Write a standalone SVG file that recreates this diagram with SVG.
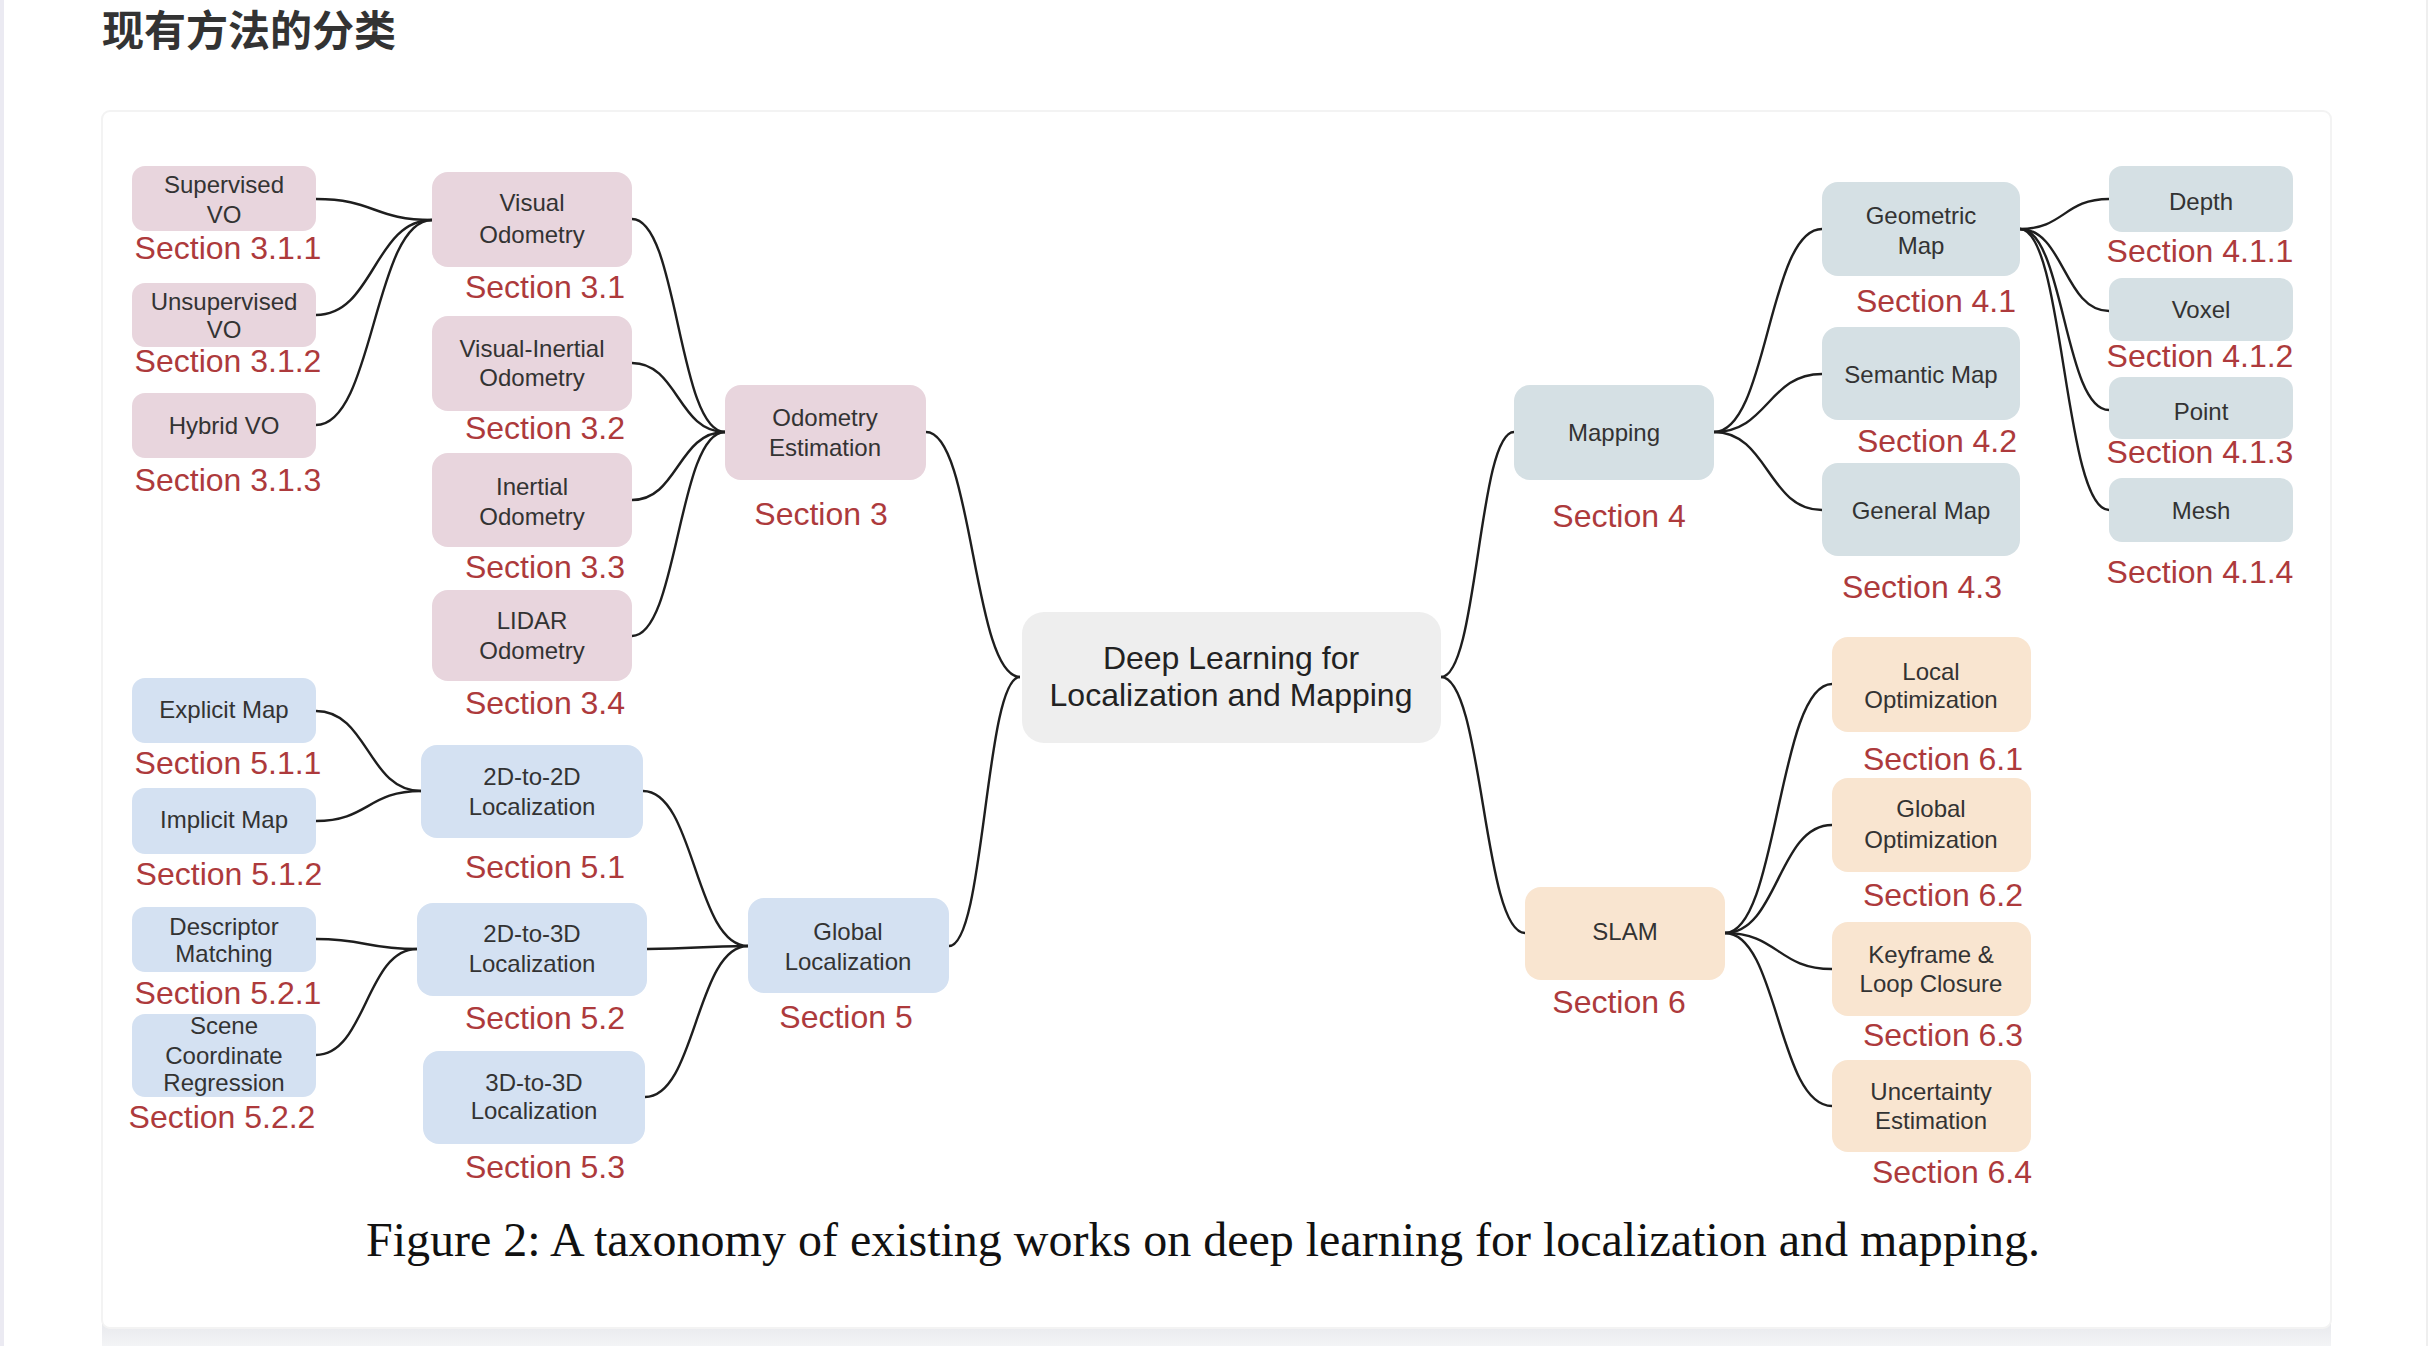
<svg xmlns="http://www.w3.org/2000/svg" width="2428" height="1346" viewBox="0 0 2428 1346">
<defs>
<linearGradient id="band" x1="0" y1="0" x2="0" y2="1"><stop offset="0" stop-color="#e6e7eb"/><stop offset="1" stop-color="#f3f4f6"/></linearGradient>
</defs>
<style>
.pink{fill:#e8d5dd}
.blue{fill:#d4e1f2}
.teal{fill:#d5e0e4}
.orange{fill:#f9e5d0}
.center{fill:#eeeeee}
.lbl{font-family:"Liberation Sans",Arial,sans-serif;font-size:24px;fill:#333333;text-anchor:middle}
.big{font-family:"Liberation Sans",Arial,sans-serif;font-size:32px;fill:#222222;text-anchor:middle}
.sec{font-family:"Liberation Sans",Arial,sans-serif;font-size:32px;fill:#ad3a3c;text-anchor:middle}
.edge{fill:none;stroke:#1e1e1e;stroke-width:2.4}
</style>
<rect x="0" y="0" width="2428" height="1346" fill="#ffffff"/>
<rect x="0" y="0" width="4" height="1346" fill="#ebeaf2"/>
<rect x="2426" y="0" width="2" height="1346" fill="#efefef"/>
<rect x="102" y="1318" width="2229" height="28" fill="url(#band)"/>
<rect x="102" y="111" width="2229" height="1217" rx="8" fill="#ffffff" stroke="#f3f3f3" stroke-width="2"/>
<text x="102" y="46" font-family="'Noto Sans CJK SC',sans-serif" font-size="42" font-weight="700" fill="#333333">现有方法的分类</text>

<g id="connectors">
<path class="edge" d="M316 199 C374 199 374 220 432 220"/>
<path class="edge" d="M316 315 C374 315 374 220 432 220"/>
<path class="edge" d="M316 425 C374 425 374 220 432 220"/>
<path class="edge" d="M632 219 C678 219 678 432 725 432"/>
<path class="edge" d="M632 363 C678 363 678 432 725 432"/>
<path class="edge" d="M632 500 C678 500 678 432 725 432"/>
<path class="edge" d="M632 636 C678 636 678 432 725 432"/>
<path class="edge" d="M926 432 C973 432 973 677 1020 677"/>
<path class="edge" d="M316 711 C368 711 368 791 421 791"/>
<path class="edge" d="M316 821 C368 821 368 791 421 791"/>
<path class="edge" d="M316 939 C366 939 366 949 417 949"/>
<path class="edge" d="M316 1055 C366 1055 366 949 417 949"/>
<path class="edge" d="M643 791 C695 791 695 946 748 946"/>
<path class="edge" d="M647 949 C697 949 697 946 748 946"/>
<path class="edge" d="M645 1097 C696 1097 696 946 748 946"/>
<path class="edge" d="M949 946 C985 946 985 677 1020 677"/>
<path class="edge" d="M1441 677 C1478 677 1478 432 1514 432"/>
<path class="edge" d="M1441 677 C1483 677 1483 933 1525 933"/>
<path class="edge" d="M1714 432 C1768 432 1768 229 1822 229"/>
<path class="edge" d="M1714 432 C1768 432 1768 374 1822 374"/>
<path class="edge" d="M1714 432 C1768 432 1768 510 1822 510"/>
<path class="edge" d="M2020 229 C2064 229 2064 199 2109 199"/>
<path class="edge" d="M2020 229 C2064 229 2064 311 2109 311"/>
<path class="edge" d="M2020 229 C2064 229 2064 410 2109 410"/>
<path class="edge" d="M2020 229 C2064 229 2064 510 2109 510"/>
<path class="edge" d="M1725 933 C1778 933 1778 684 1832 684"/>
<path class="edge" d="M1725 933 C1778 933 1778 825 1832 825"/>
<path class="edge" d="M1725 933 C1778 933 1778 969 1832 969"/>
<path class="edge" d="M1725 933 C1778 933 1778 1106 1832 1106"/>
</g>

<g id="n-supervised"><rect class="pink" x="132" y="166" width="184" height="65" rx="13"/><text class="lbl" x="224" y="193">Supervised</text><text class="lbl" x="224" y="223">VO</text><text class="sec" x="228" y="259">Section 3.1.1</text></g>
<g id="n-unsupervised"><rect class="pink" x="132" y="283" width="184" height="64" rx="13"/><text class="lbl" x="224" y="310">Unsupervised</text><text class="lbl" x="224" y="338">VO</text><text class="sec" x="228" y="372">Section 3.1.2</text></g>
<g id="n-hybrid"><rect class="pink" x="132" y="393" width="184" height="65" rx="13"/><text class="lbl" x="224" y="434">Hybrid VO</text><text class="sec" x="228" y="491">Section 3.1.3</text></g>

<g id="n-vo"><rect class="pink" x="432" y="172" width="200" height="95" rx="16"/><text class="lbl" x="532" y="211">Visual</text><text class="lbl" x="532" y="243">Odometry</text><text class="sec" x="545" y="298">Section 3.1</text></g>
<g id="n-vio"><rect class="pink" x="432" y="316" width="200" height="95" rx="16"/><text class="lbl" x="532" y="357">Visual-Inertial</text><text class="lbl" x="532" y="386">Odometry</text><text class="sec" x="545" y="439">Section 3.2</text></g>
<g id="n-io"><rect class="pink" x="432" y="453" width="200" height="94" rx="16"/><text class="lbl" x="532" y="495">Inertial</text><text class="lbl" x="532" y="525">Odometry</text><text class="sec" x="545" y="578">Section 3.3</text></g>
<g id="n-lidar"><rect class="pink" x="432" y="590" width="200" height="91" rx="16"/><text class="lbl" x="532" y="629">LIDAR</text><text class="lbl" x="532" y="659">Odometry</text><text class="sec" x="545" y="714">Section 3.4</text></g>
<g id="n-odom"><rect class="pink" x="725" y="385" width="201" height="95" rx="16"/><text class="lbl" x="825" y="426">Odometry</text><text class="lbl" x="825" y="456">Estimation</text><text class="sec" x="821" y="525">Section 3</text></g>

<g id="n-explicit"><rect class="blue" x="132" y="678" width="184" height="65" rx="13"/><text class="lbl" x="224" y="718">Explicit Map</text><text class="sec" x="228" y="774">Section 5.1.1</text></g>
<g id="n-implicit"><rect class="blue" x="132" y="788" width="184" height="66" rx="13"/><text class="lbl" x="224" y="828">Implicit Map</text><text class="sec" x="229" y="885">Section 5.1.2</text></g>
<g id="n-desc"><rect class="blue" x="132" y="907" width="184" height="65" rx="13"/><text class="lbl" x="224" y="935">Descriptor</text><text class="lbl" x="224" y="962">Matching</text><text class="sec" x="228" y="1004">Section 5.2.1</text></g>
<g id="n-scene"><rect class="blue" x="132" y="1014" width="184" height="83" rx="13"/><text class="lbl" x="224" y="1034">Scene</text><text class="lbl" x="224" y="1064">Coordinate</text><text class="lbl" x="224" y="1091">Regression</text><text class="sec" x="222" y="1128">Section 5.2.2</text></g>
<g id="n-2d2d"><rect class="blue" x="421" y="745" width="222" height="93" rx="16"/><text class="lbl" x="532" y="785">2D-to-2D</text><text class="lbl" x="532" y="815">Localization</text><text class="sec" x="545" y="878">Section 5.1</text></g>
<g id="n-2d3d"><rect class="blue" x="417" y="903" width="230" height="93" rx="16"/><text class="lbl" x="532" y="942">2D-to-3D</text><text class="lbl" x="532" y="972">Localization</text><text class="sec" x="545" y="1029">Section 5.2</text></g>
<g id="n-3d3d"><rect class="blue" x="423" y="1051" width="222" height="93" rx="16"/><text class="lbl" x="534" y="1091">3D-to-3D</text><text class="lbl" x="534" y="1119">Localization</text><text class="sec" x="545" y="1178">Section 5.3</text></g>
<g id="n-global"><rect class="blue" x="748" y="898" width="201" height="95" rx="16"/><text class="lbl" x="848" y="940">Global</text><text class="lbl" x="848" y="970">Localization</text><text class="sec" x="846" y="1028">Section 5</text></g>

<g id="n-root"><rect class="center" x="1022" y="612" width="419" height="131" rx="22"/><text class="big" x="1231" y="669">Deep Learning for</text><text class="big" x="1231" y="706">Localization and Mapping</text></g>

<g id="n-mapping"><rect class="teal" x="1514" y="385" width="200" height="95" rx="16"/><text class="lbl" x="1614" y="441">Mapping</text><text class="sec" x="1619" y="527">Section 4</text></g>
<g id="n-geometric"><rect class="teal" x="1822" y="182" width="198" height="94" rx="16"/><text class="lbl" x="1921" y="224">Geometric</text><text class="lbl" x="1921" y="254">Map</text><text class="sec" x="1936" y="312">Section 4.1</text></g>
<g id="n-semantic"><rect class="teal" x="1822" y="327" width="198" height="93" rx="16"/><text class="lbl" x="1921" y="383">Semantic Map</text><text class="sec" x="1937" y="452">Section 4.2</text></g>
<g id="n-general"><rect class="teal" x="1822" y="463" width="198" height="93" rx="16"/><text class="lbl" x="1921" y="519">General Map</text><text class="sec" x="1922" y="598">Section 4.3</text></g>
<g id="n-depth"><rect class="teal" x="2109" y="166" width="184" height="66" rx="13"/><text class="lbl" x="2201" y="210">Depth</text><text class="sec" x="2200" y="262">Section 4.1.1</text></g>
<g id="n-voxel"><rect class="teal" x="2109" y="278" width="184" height="63" rx="13"/><text class="lbl" x="2201" y="318">Voxel</text><text class="sec" x="2200" y="367">Section 4.1.2</text></g>
<g id="n-point"><rect class="teal" x="2109" y="377" width="184" height="62" rx="13"/><text class="lbl" x="2201" y="420">Point</text><text class="sec" x="2200" y="463">Section 4.1.3</text></g>
<g id="n-mesh"><rect class="teal" x="2109" y="478" width="184" height="64" rx="13"/><text class="lbl" x="2201" y="519">Mesh</text><text class="sec" x="2200" y="583">Section 4.1.4</text></g>

<g id="n-slam"><rect class="orange" x="1525" y="887" width="200" height="93" rx="16"/><text class="lbl" x="1625" y="940">SLAM</text><text class="sec" x="1619" y="1013">Section 6</text></g>
<g id="n-localopt"><rect class="orange" x="1832" y="637" width="199" height="95" rx="16"/><text class="lbl" x="1931" y="680">Local</text><text class="lbl" x="1931" y="708">Optimization</text><text class="sec" x="1943" y="770">Section 6.1</text></g>
<g id="n-globalopt"><rect class="orange" x="1832" y="778" width="199" height="94" rx="16"/><text class="lbl" x="1931" y="817">Global</text><text class="lbl" x="1931" y="848">Optimization</text><text class="sec" x="1943" y="906">Section 6.2</text></g>
<g id="n-keyframe"><rect class="orange" x="1832" y="922" width="199" height="94" rx="16"/><text class="lbl" x="1931" y="963">Keyframe &amp;</text><text class="lbl" x="1931" y="992">Loop Closure</text><text class="sec" x="1943" y="1046">Section 6.3</text></g>
<g id="n-uncertainty"><rect class="orange" x="1832" y="1060" width="199" height="92" rx="16"/><text class="lbl" x="1931" y="1100">Uncertainty</text><text class="lbl" x="1931" y="1129">Estimation</text><text class="sec" x="1952" y="1183">Section 6.4</text></g>

<text x="1203" y="1256" font-family="'Liberation Serif','Times New Roman',serif" font-size="48" fill="#111111" text-anchor="middle" textLength="1674" lengthAdjust="spacingAndGlyphs">Figure 2: A taxonomy of existing works on deep learning for localization and mapping.</text>
</svg>
